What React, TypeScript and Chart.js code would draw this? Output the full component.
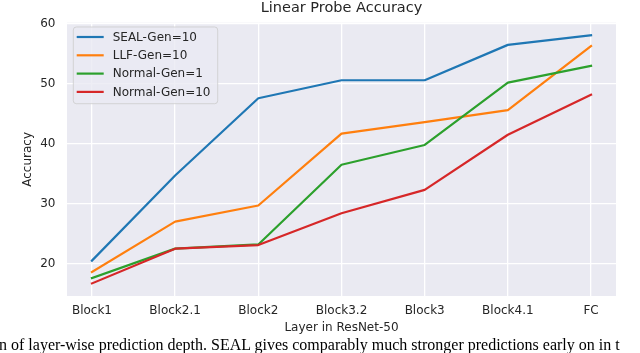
import React, { useEffect, useRef } from "react";
import { Chart, registerables } from "chart.js";

Chart.register(...registerables);

const categories = ["Block1", "Block2.1", "Block2", "Block3.2", "Block3", "Block4.1", "FC"];
const seriesNames = ["SEAL-Gen=10", "LLF-Gen=10", "Normal-Gen=1", "Normal-Gen=10"];
const sealGen10 = [20.5, 34.7, 47.6, 50.6, 50.6, 56.5, 58.1];
const llfGen10 = [18.6, 27.0, 29.7, 41.7, 43.6, 45.6, 56.3];
const normalGen1 = [17.6, 22.5, 23.2, 36.5, 39.8, 50.2, 53.0];
const normalGen10 = [16.7, 22.5, 23.1, 28.4, 32.3, 41.5, 48.2];
const yTicks = [20, 30, 40, 50, 60];
const seriesColors = ["#1f77b4", "#ff7f0e", "#2ca02c", "#d62728"];
const chartTitle = "Linear Probe Accuracy";
const xTitle = "Layer in ResNet-50";
const yTitle = "Accuracy";
const caption =
  "n of layer-wise prediction depth. SEAL gives comparably much stronger predictions early on in t";

const TEXT = "#262626";
const FONT = "'DejaVu Sans', sans-serif";

const bgPlugin = {
  id: "bgPlugin",
  beforeDraw(chart: any) {
    const { ctx, chartArea: a } = chart;
    ctx.save();
    ctx.fillStyle = "#EAEAF2";
    ctx.fillRect(a.left, a.top, a.right - a.left, a.bottom - a.top);
    ctx.restore();
  },
};

const titlePlugin = {
  id: "titlePlugin",
  afterDraw(chart: any) {
    const { ctx, chartArea: a } = chart;
    ctx.save();
    ctx.fillStyle = TEXT;
    ctx.font = `14.5px ${FONT}`;
    ctx.textAlign = "center";
    ctx.textBaseline = "alphabetic";
    ctx.fillText(chartTitle, (a.left + a.right) / 2, a.top - 10.3);
    ctx.restore();
  },
};

const legendPlugin = {
  id: "legendPlugin",
  afterDatasetsDraw(chart: any) {
    const { ctx, chartArea: a } = chart;
    const x0 = a.left + 6.3;
    const y0 = a.top + 4.3;
    const w = 144.4;
    const h = 76.7;
    const r = 3;
    ctx.save();
    ctx.beginPath();
    ctx.moveTo(x0 + r, y0);
    ctx.lineTo(x0 + w - r, y0);
    ctx.quadraticCurveTo(x0 + w, y0, x0 + w, y0 + r);
    ctx.lineTo(x0 + w, y0 + h - r);
    ctx.quadraticCurveTo(x0 + w, y0 + h, x0 + w - r, y0 + h);
    ctx.lineTo(x0 + r, y0 + h);
    ctx.quadraticCurveTo(x0, y0 + h, x0, y0 + h - r);
    ctx.lineTo(x0, y0 + r);
    ctx.quadraticCurveTo(x0, y0, x0 + r, y0);
    ctx.closePath();
    ctx.fillStyle = "rgba(234,234,242,0.8)";
    ctx.fill();
    ctx.strokeStyle = "rgba(204,204,204,0.8)";
    ctx.lineWidth = 1;
    ctx.stroke();
    ctx.font = `12px ${FONT}`;
    ctx.textBaseline = "middle";
    ctx.textAlign = "left";
    chart.data.datasets.forEach((ds: any, i: number) => {
      const y = y0 + 10 + i * 18.3;
      ctx.beginPath();
      ctx.strokeStyle = ds.borderColor;
      ctx.lineWidth = 2.2;
      ctx.moveTo(x0 + 3.4, y);
      ctx.lineTo(x0 + 30.4, y);
      ctx.stroke();
      ctx.fillStyle = TEXT;
      ctx.fillText(ds.label, x0 + 39.4, y + 0.5);
    });
    ctx.restore();
  },
};

export default function App() {
  const ref = useRef<HTMLCanvasElement | null>(null);

  useEffect(() => {
    if (!ref.current) return;
    const seriesValues = [sealGen10, llfGen10, normalGen1, normalGen10];
    const chart = new Chart(ref.current, {
      type: "line",
      data: {
        datasets: seriesValues.map((vals, i) => ({
          label: seriesNames[i],
          data: vals.map((v, j) => ({ x: j, y: v })),
          borderColor: seriesColors[i],
          backgroundColor: seriesColors[i],
          borderWidth: 2.2,
          pointRadius: 0,
          pointHoverRadius: 0,
          tension: 0,
          fill: false,
          borderJoinStyle: "round",
          borderCapStyle: "square",
          order: 3 - i,
        })),
      },
      options: {
        animation: false,
        responsive: false,
        devicePixelRatio: 1,
        events: [],
        layout: { padding: { top: 22.7, right: 24, bottom: 0, left: 0 } },
        plugins: {
          legend: { display: false },
          title: { display: false },
          tooltip: { enabled: false },
        },
        scales: {
          x: {
            type: "linear",
            min: -0.3,
            max: 6.3,
            afterBuildTicks: (s: any) => {
              s.ticks = categories.map((_, i) => ({ value: i }));
            },
            afterFit: (s: any) => {
              s.height = 57;
            },
            ticks: {
              callback: (v: any) => categories[Math.round(Number(v))] ?? "",
              font: { family: FONT, size: 12 },
              color: TEXT,
              padding: 8,
              autoSkip: false,
              maxRotation: 0,
            },
            grid: { color: "#ffffff", lineWidth: 1.3, drawTicks: false },
            border: { display: false },
            title: {
              display: true,
              text: xTitle,
              font: { family: FONT, size: 12 },
              color: TEXT,
              padding: { top: 0, bottom: 18.3 },
            },
          },
          y: {
            type: "linear",
            min: 14.6,
            max: 60.2,
            afterBuildTicks: (s: any) => {
              s.ticks = yTicks.map((v) => ({ value: v }));
            },
            afterFit: (s: any) => {
              s.width = 67;
            },
            ticks: {
              font: { family: FONT, size: 12 },
              color: TEXT,
              padding: 11.5,
            },
            grid: { color: "#ffffff", lineWidth: 1.3, drawTicks: false },
            border: { display: false },
            title: {
              display: true,
              text: yTitle,
              font: { family: FONT, size: 12 },
              color: TEXT,
              padding: { top: 21, bottom: 0 },
            },
          },
        },
      },
      plugins: [bgPlugin, legendPlugin, titlePlugin],
    } as any);
    return () => chart.destroy();
  }, []);

  return (
    <div
      style={{
        position: "absolute",
        left: 0,
        top: 0,
        width: 640,
        height: 353,
        overflow: "hidden",
        background: "#ffffff",
      }}
    >
      <canvas ref={ref} width={640} height={353} style={{ display: "block" }} />
      <div
        style={{
          position: "absolute",
          left: -1,
          top: 336.6,
          fontFamily: "'Liberation Serif', serif",
          fontSize: 16,
          lineHeight: "16px",
          color: "#000",
          whiteSpace: "nowrap",
        }}
      >
        {caption}
      </div>
    </div>
  );
}
